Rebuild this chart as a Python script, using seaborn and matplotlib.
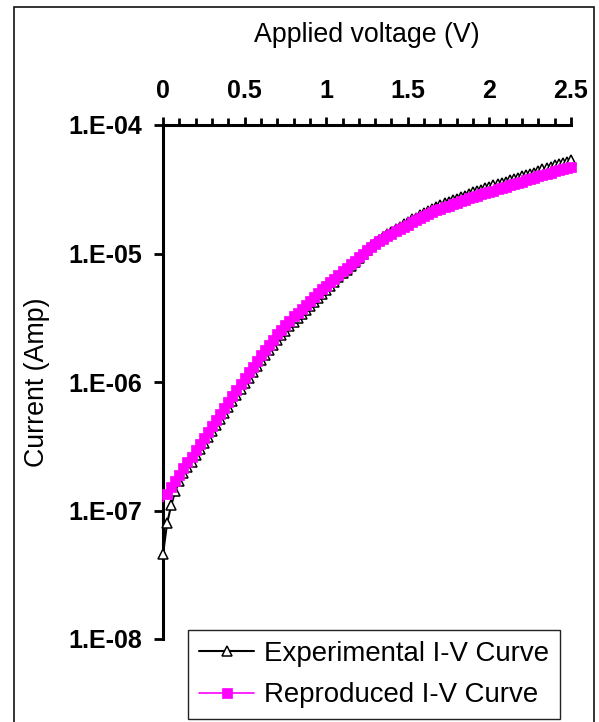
import numpy as np
import matplotlib
matplotlib.use("Agg")
import matplotlib.pyplot as plt
import seaborn as sns
from matplotlib.patches import Rectangle
from matplotlib.ticker import MultipleLocator, NullLocator

# ---------------- data ----------------
voltage = [
    0.000, 0.025, 0.050, 0.075, 0.100, 0.125, 0.150, 0.175, 0.200, 0.225,
    0.250, 0.275, 0.300, 0.325, 0.350, 0.375, 0.400, 0.425, 0.450, 0.475,
    0.500, 0.525, 0.550, 0.575, 0.600, 0.625, 0.650, 0.675, 0.700, 0.725,
    0.750, 0.775, 0.800, 0.825, 0.850, 0.875, 0.900, 0.925, 0.950, 0.975,
    1.000, 1.025, 1.050, 1.075, 1.100, 1.125, 1.150, 1.175, 1.200, 1.225,
    1.250, 1.275, 1.300, 1.325, 1.350, 1.375, 1.400, 1.425, 1.450, 1.475,
    1.500, 1.525, 1.550, 1.575, 1.600, 1.625, 1.650, 1.675, 1.700, 1.725,
    1.750, 1.775, 1.800, 1.825, 1.850, 1.875, 1.900, 1.925, 1.950, 1.975,
    2.000, 2.025, 2.050, 2.075, 2.100, 2.125, 2.150, 2.175, 2.200, 2.225,
    2.250, 2.275, 2.300, 2.325, 2.350, 2.375, 2.400, 2.425, 2.450, 2.475,
    2.500,
]

# log10 of current (A)
experimental_log10_current = [
    -7.34, -7.10, -6.96, -6.85, -6.77, -6.71, -6.665, -6.62, -6.57, -6.52,
    -6.475, -6.43, -6.38, -6.335, -6.29, -6.24, -6.195, -6.15, -6.10, -6.055,
    -6.01, -5.965, -5.92, -5.875, -5.83, -5.79, -5.75, -5.71, -5.67, -5.635,
    -5.60, -5.565, -5.53, -5.50, -5.47, -5.44, -5.405, -5.375, -5.345, -5.315,
    -5.285, -5.25, -5.22, -5.185, -5.155, -5.125, -5.095, -5.065, -5.035, -5.005,
    -4.975, -4.945, -4.92, -4.895, -4.875, -4.85, -4.83, -4.81, -4.79, -4.77,
    -4.755, -4.735, -4.72, -4.70, -4.685, -4.67, -4.655, -4.64, -4.625, -4.61,
    -4.60, -4.585, -4.575, -4.56, -4.55, -4.535, -4.525, -4.515, -4.505, -4.49,
    -4.48, -4.47, -4.46, -4.45, -4.44, -4.43, -4.42, -4.41, -4.40, -4.39,
    -4.38, -4.37, -4.355, -4.345, -4.335, -4.325, -4.315, -4.305, -4.295, -4.285,
    -4.27,
]

reproduced_log10_current = [
    -6.93, -6.87, -6.82, -6.77, -6.72, -6.67, -6.625, -6.58, -6.53, -6.48,
    -6.435, -6.39, -6.34, -6.295, -6.25, -6.20, -6.155, -6.11, -6.06, -6.015,
    -5.97, -5.925, -5.88, -5.835, -5.79, -5.75, -5.71, -5.67, -5.63, -5.595,
    -5.56, -5.525, -5.49, -5.46, -5.43, -5.40, -5.37, -5.34, -5.31, -5.28,
    -5.25, -5.22, -5.195, -5.165, -5.14, -5.11, -5.085, -5.055, -5.03, -5.00,
    -4.975, -4.95, -4.925, -4.905, -4.885, -4.865, -4.845, -4.825, -4.81, -4.79,
    -4.775, -4.755, -4.74, -4.725, -4.71, -4.695, -4.68, -4.665, -4.655, -4.64,
    -4.63, -4.615, -4.605, -4.59, -4.58, -4.57, -4.56, -4.55, -4.54, -4.53,
    -4.52, -4.51, -4.50, -4.49, -4.48, -4.47, -4.46, -4.45, -4.44, -4.43,
    -4.42, -4.41, -4.40, -4.39, -4.38, -4.37, -4.36, -4.35, -4.34, -4.335,
    -4.325,
]

series_labels = ["Experimental I-V Curve", "Reproduced I-V Curve"]
x_ticks = [0, 0.5, 1, 1.5, 2, 2.5]
x_tick_labels = ["0", "0.5", "1", "1.5", "2", "2.5"]
y_ticks = [1e-8, 1e-7, 1e-6, 1e-5, 1e-4]
y_tick_labels = ["1.E-08", "1.E-07", "1.E-06", "1.E-05", "1.E-04"]
x_title = "Applied voltage (V)"
y_title = "Current (Amp)"

# ---------------- style ----------------
sns.set_theme(style="white")
plt.rcParams["font.family"] = ["Liberation Sans", "DejaVu Sans"]
plt.rcParams["text.color"] = "black"
plt.rcParams["axes.labelcolor"] = "black"
plt.rcParams["xtick.color"] = "black"
plt.rcParams["ytick.color"] = "black"

W, H = 599, 722
fig = plt.figure(figsize=(W / 100, H / 100), dpi=100)
fig.patch.set_facecolor("white")

ax_left, ax_right, ax_top, ax_bottom = 163, 571, 125, 639
ax = fig.add_axes([ax_left / W, 1 - ax_bottom / H,
                   (ax_right - ax_left) / W, (ax_bottom - ax_top) / H])
ax.set_facecolor("white")

exp_current = 10 ** np.array(experimental_log10_current)
rep_current = 10 ** np.array(reproduced_log10_current)

sns.lineplot(x=voltage, y=exp_current, ax=ax, estimator=None, sort=False,
             color="black", linewidth=1.5, marker="^", markersize=7.5,
             markerfacecolor="white", markeredgecolor="black",
             markeredgewidth=1.1, clip_on=False, zorder=3,
             label=series_labels[0])
sns.lineplot(x=voltage, y=rep_current, ax=ax, estimator=None, sort=False,
             color="#FF00FF", linewidth=1.2, marker="s", markersize=7.5,
             markerfacecolor="#FF00FF", markeredgecolor="#FF00FF",
             markeredgewidth=0.5, markevery=list(range(1, len(voltage))),
             clip_on=False, zorder=4, label=series_labels[1])

ax.set_yscale("log")
ax.set_xlim(0, 2.5)
ax.set_ylim(1e-8, 1e-4)

# spines: Excel-like, y axis at x=0, x axis at the top
for side in ["right", "bottom"]:
    ax.spines[side].set_visible(False)
for side in ["left", "top"]:
    ax.spines[side].set_visible(True)
    ax.spines[side].set_linewidth(2.2)
    ax.spines[side].set_color("black")

tick_fs = 18
ax.xaxis.tick_top()
ax.xaxis.set_label_position("top")
ax.set_xticks(x_ticks, labels=x_tick_labels, fontweight="bold", fontsize=tick_fs)
ax.xaxis.set_minor_locator(MultipleLocator(0.1))
ax.tick_params(axis="x", which="major", top=True, bottom=False, direction="out",
               length=6, width=2, pad=10)
ax.tick_params(axis="x", which="minor", top=True, bottom=False, direction="out",
               length=5, width=2)

ax.set_yticks(y_ticks, labels=y_tick_labels, fontweight="bold", fontsize=tick_fs)
ax.yaxis.set_minor_locator(NullLocator())
ax.tick_params(axis="y", which="major", left=True, right=False, direction="out",
               length=6.5, width=2, pad=8.5)

ax.set_xlabel(x_title, fontsize=19.3)
ax.xaxis.label.set_va("center")
ax.xaxis.set_label_coords(0.5, (ax_bottom - 35) / (ax_bottom - ax_top))
ax.set_ylabel(y_title, fontsize=19.3)
ax.yaxis.label.set_va("center")
ax.yaxis.set_label_coords((37 - ax_left) / (ax_right - ax_left), 0.5)
ax.grid(False)

handles, labels = ax.get_legend_handles_labels()
leg = ax.legend(handles, labels, loc="upper left",
                bbox_to_anchor=(188 / W, 1 - 630 / H),
                bbox_transform=fig.transFigure, borderaxespad=0,
                fontsize=19.9, frameon=True, fancybox=False, shadow=False,
                framealpha=1, edgecolor="#222222", handlelength=2.0,
                handletextpad=0.35, borderpad=0.4, labelspacing=0.55,
                numpoints=1)
leg.get_frame().set_linewidth(1.0)

# figure border
fig.patches.append(Rectangle((14 / W, -0.05), (594 - 14) / W, 1 - 7 / H + 0.05,
                             transform=fig.transFigure, fill=False,
                             edgecolor="#111111", linewidth=1.2, zorder=10))

fig.savefig("out.png", dpi=100, facecolor="white")
